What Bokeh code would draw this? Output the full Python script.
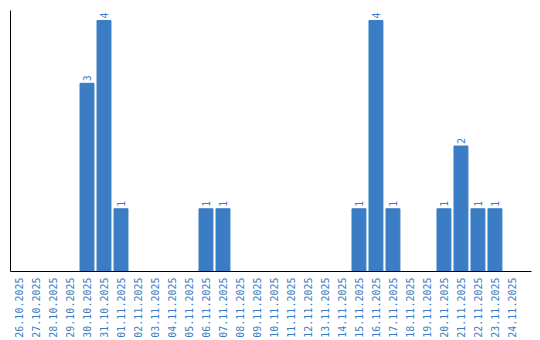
import math
from bokeh.plotting import figure
from bokeh.models import ColumnDataSource, Range1d, FixedTicker
from bokeh.core.properties import value
from bokeh.embed import file_html
from bokeh.resources import INLINE

dates = ["26.10.2025", "27.10.2025", "28.10.2025", "29.10.2025", "30.10.2025",
         "31.10.2025", "01.11.2025", "02.11.2025", "03.11.2025", "04.11.2025",
         "05.11.2025", "06.11.2025", "07.11.2025", "08.11.2025", "09.11.2025",
         "10.11.2025", "11.11.2025", "12.11.2025", "13.11.2025", "14.11.2025",
         "15.11.2025", "16.11.2025", "17.11.2025", "18.11.2025", "19.11.2025",
         "20.11.2025", "21.11.2025", "22.11.2025", "23.11.2025", "24.11.2025"]
counts = [0, 0, 0, 0, 3, 4, 1, 0, 0, 0, 0, 1, 1, 0, 0, 0, 0, 0, 0, 0,
          1, 4, 1, 0, 0, 1, 2, 1, 1, 0]

BLUE = "#3b7dc4"
FONT = "DejaVu Sans Mono"

idx = list(range(len(dates)))
src = ColumnDataSource(dict(x=idx, c=counts))
nz = [i for i, v in enumerate(counts) if v > 0]
lab = ColumnDataSource(dict(x=nz, c=[counts[i] for i in nz],
                            t=[str(counts[i]) for i in nz]))

p = figure(width=540, height=340, output_backend="svg", toolbar_location=None,
           x_range=Range1d(-0.5, len(dates) + 0.15),
           y_range=Range1d(0, 4.16),
           min_border_left=10, min_border_right=9, min_border_top=10,
           min_border_bottom=10)
p.vbar(x="x", top="c", width=0.82, source=src, color=BLUE)
p.text(x="x", y="c", text="t", source=lab, angle=math.pi / 2,
       text_align="left", text_baseline="middle", x_offset=0, y_offset=-2,
       text_color=BLUE, text_font=value(FONT), text_font_size="10px")

p.grid.visible = False
p.outline_line_color = None
p.background_fill_color = "white"
p.border_fill_color = "white"

xa = p.xaxis[0]
xa.ticker = FixedTicker(ticks=idx)
xa.major_label_overrides = {i: d for i, d in zip(idx, dates)}
xa.major_label_orientation = math.pi / 2
xa.major_label_text_font = FONT
xa.major_label_text_font_size = "10px"
xa.major_label_text_color = BLUE
xa.major_tick_line_color = None
xa.minor_tick_line_color = None
xa.major_tick_out = 0
xa.major_tick_in = 0
xa.minor_tick_out = 0
xa.minor_tick_in = 0
xa.major_label_standoff = 6
xa.axis_line_color = "black"
xa.axis_line_width = 1

ya = p.yaxis[0]
ya.ticker = FixedTicker(ticks=[])
ya.major_tick_line_color = None
ya.minor_tick_line_color = None
ya.major_tick_out = 0
ya.major_tick_in = 0
ya.minor_tick_out = 0
ya.minor_tick_in = 0
ya.major_label_standoff = 0
ya.axis_line_color = "black"

open("out.html", "w").write(file_html(p, INLINE))
